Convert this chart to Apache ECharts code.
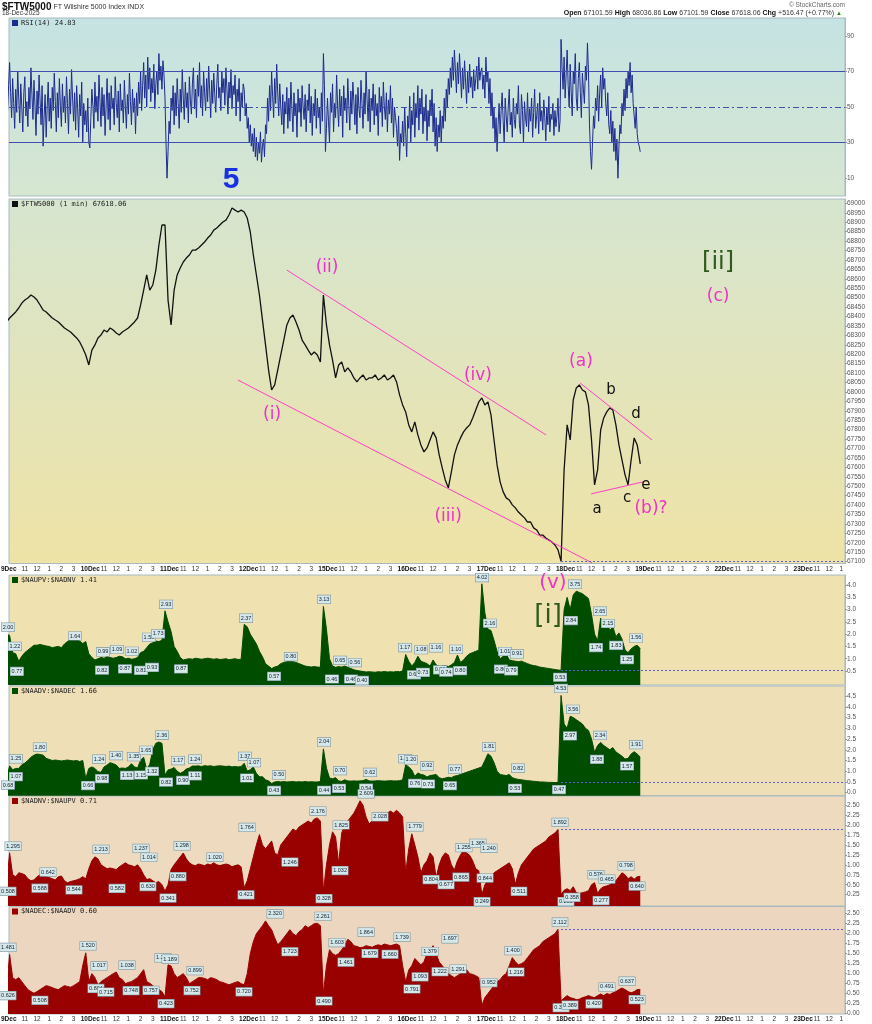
<!DOCTYPE html>
<html>
<head>
<meta charset="utf-8">
<script src="https://cdn.jsdelivr.net/npm/echarts@6/dist/echarts.min.js"></script>
<style>
  html, body { margin: 0; padding: 0; background: #fff; }
  #chart { width: 872px; height: 1024px; }
</style>
</head>
<body>
<div id="chart"></div>
<script>
// x is counted in trading minutes from 9Dec 9:30, 390 per session
const axisDays = ['9Dec', '10Dec', '11Dec', '12Dec', '15Dec', '16Dec', '17Dec', '18Dec', '19Dec', '22Dec', '23Dec'];
const hourMarks = [[90, '11'], [150, '12'], [210, '1'], [270, '2'], [330, '3']];

// RSI(14), one value every 5 minutes
const rsi = [
  55,48,62,75,58,44,66,52,38,60,47,70,55,41,63,50,36,58,67,45,53,39,61,49,72,57,43,65,51,34,59,46,68,54,40,62,28,45,57,33,50,64,42,55,38,61,48,69,53,36,58,44,66,51,39,63,47,56,41,67,52,35,60,46,71,55,42,58,37,62,49,33,57,45,64,30,52,40,
  48,36,55,30,27,44,60,51,38,64,47,56,42,68,53,39,61,45,57,34,50,66,43,58,37,62,49,55,40,67,52,44,59,36,63,48,54,41,65,50,38,57,46,69,53,40,60,47,55,35,58,45,64,52,70,48,62,75,55,68,50,78,60,72,53,66,58,74,49,63,70,57,80,65,73,60,76,68,
  55,30,10,25,42,35,55,48,62,40,58,45,66,52,38,60,47,71,55,43,64,50,58,41,67,54,46,63,72,49,60,44,68,56,75,50,62,45,70,58,48,66,53,73,59,44,65,52,69,57,47,63,74,55,61,48,70,58,66,51,72,60,46,64,55,71,49,62,57,68,45,60,53,66,42,58,50,63,
  60,45,52,38,44,30,40,28,35,25,38,22,33,20,30,24,36,19,28,32,22,40,35,55,42,62,48,70,56,44,66,52,74,58,45,63,50,40,57,35,53,46,61,38,55,42,64,49,36,58,45,52,33,60,47,55,39,62,50,43,57,36,54,48,63,41,56,34,52,45,60,38,55,44,50,35,58,42,
  80,62,25,38,55,42,30,58,47,63,36,52,44,68,50,39,60,45,56,33,62,48,55,41,66,51,37,59,46,64,53,40,57,35,61,49,44,65,52,38,58,46,70,54,42,60,36,55,48,63,40,57,45,52,34,61,47,56,39,64,50,43,58,36,54,46,62,41,55,33,50,44,38,28,45,20,35,30,
  42,28,50,35,22,45,38,56,30,48,40,58,33,52,44,62,37,55,46,60,35,50,42,57,31,48,39,54,45,60,36,52,28,44,25,40,33,48,30,45,38,55,42,60,50,66,57,72,61,78,65,82,70,58,75,63,80,68,55,72,60,76,64,52,70,58,74,61,67,55,71,59,66,73,60,78,65,70,
  72,60,68,55,78,64,70,52,66,45,58,38,50,30,44,25,40,52,35,48,58,42,30,55,45,36,50,60,40,47,33,55,43,38,52,46,62,40,35,57,48,30,53,44,39,58,36,49,42,55,33,47,60,38,45,52,35,58,42,48,37,54,44,31,50,40,56,36,46,43,52,34,48,39,45,55,36,42,
  88,72,60,78,55,68,82,62,50,74,58,45,70,63,80,55,48,66,75,58,44,69,60,52,73,65,86,70,40,25,15,30,45,38,55,48,62,42,58,68,50,72,60,66,52,45,58,40,35,48,30,42,25,38,20,32,10,28,40,35,52,45,60,48,66,55,70,62,75,58,68,52,45,38,50,35,30,28,
  24.83
];

// $FTW5000 and the four breadth ratios, one value every 15 minutes
const price = [
  68371,68392,68408,68424,68445,68471,68487,68498,68514,68503,68487,68461,68434,68424,68408,68392,68381,68371,68355,68339,68328,68318,68302,68286,68265,68233,
  68196,68143,68222,68249,68286,68302,68328,68318,68339,68328,68312,68302,68318,68328,68339,68355,68371,68392,68461,68540,68620,68540,68567,68646,68779,68885,
  68885,68487,68355,68540,68620,68657,68689,68710,68726,68752,68752,68763,68779,68795,68816,68832,68858,68869,68885,68901,68911,68938,68975,68964,68954,68964,
  68954,68922,68848,68726,68620,68514,68381,68249,68116,68010,68037,68116,68196,68275,68355,68392,68408,68371,68328,68275,68249,68222,68196,68212,68196,68159,
  68514,68355,68249,68169,68074,68143,68159,68106,68127,68106,68074,68053,68074,68090,68063,68074,68074,68090,68063,68074,68090,68063,68074,68090,68053,67984,
  67931,67894,67825,67788,67841,67772,67719,67682,67703,67745,67788,67756,67666,67597,67533,67491,67576,67666,67719,67756,67788,67809,67825,67862,67904,67947,
  67968,67931,67947,67878,67745,67613,67523,67470,67438,67427,67401,67385,67363,67347,67332,67310,67310,67279,67268,67241,67241,67225,67215,67204,67188,67162,
  67102,67586,67825,67745,67957,68021,68037,68010,68000,67931,67745,67507,67586,67798,67862,67894,67915,67904,67825,67719,67639,67560,67507,67639,67756,67719,
  67618.06
];

// $NAUPV:$NADNV
const upvRatio = [
  2.0,1.95,1.25,1.2,0.9,1.1,1.25,1.35,1.45,1.55,1.55,1.58,1.55,1.52,1.5,1.45,1.48,1.5,1.45,1.6,1.7,1.8,1.78,1.82,1.72,1.62,
  1.7,1.2,1.05,0.95,1.0,1.05,1.02,1.08,1.05,1.02,1.05,1.1,1.08,1.0,1.02,0.98,1.0,1.05,1.25,1.3,1.45,1.6,1.65,1.72,1.7,1.75,
  2.95,2.5,2.1,1.5,1.3,1.05,0.95,0.98,1.0,0.98,1.02,1.0,0.98,1.0,1.02,1.0,0.98,1.0,0.97,0.98,1.0,0.96,0.98,1.0,0.97,0.98,
  2.4,2.3,2.0,1.8,1.6,1.3,1.08,0.8,0.7,0.6,0.66,0.7,0.8,0.85,0.88,0.9,0.88,0.85,0.8,0.75,0.7,0.68,0.66,0.68,0.66,0.65,
  3.13,2.2,1.0,0.7,0.65,0.68,0.66,0.7,0.65,0.6,0.55,0.52,0.5,0.48,0.46,0.47,0.46,0.45,0.47,0.46,0.48,0.46,0.47,0.46,0.48,0.47,
  0.5,1.17,0.9,0.7,0.85,1.1,0.9,0.85,0.8,0.7,0.95,0.75,0.68,0.7,0.72,0.68,0.75,0.85,1.15,0.85,0.95,1.1,1.2,1.25,1.3,1.35,
  4.05,2.86,2.2,2.15,1.75,1.3,1.0,1.1,1.2,0.95,0.92,0.9,0.88,0.9,0.85,0.8,0.75,0.72,0.7,0.66,0.64,0.62,0.6,0.58,0.56,0.54,
  0.53,3.0,3.5,3.0,3.6,3.75,3.7,3.65,3.55,3.45,2.8,2.0,1.74,2.65,2.45,2.5,2.15,2.3,1.9,2.05,1.8,1.35,1.25,1.4,1.5,1.55,
  1.41
];

// $NAADV:$NADEC
const advRatio = [
  0.68,1.25,1.07,1.13,1.13,1.3,1.38,1.5,1.65,1.75,1.8,1.78,1.75,1.6,1.55,1.5,1.52,1.5,1.48,1.5,1.52,1.5,1.48,1.5,1.45,1.5,
  0.66,1.13,1.2,1.13,0.98,0.95,1.2,1.29,1.4,1.35,1.29,1.13,1.15,1.13,1.2,1.35,1.2,1.15,1.52,1.65,1.09,1.32,2.0,2.3,2.36,2.3,
  0.82,1.06,1.1,1.17,1.0,0.9,0.98,1.1,1.15,1.24,1.24,1.25,1.22,1.26,1.24,1.25,1.22,1.24,1.25,1.24,1.22,1.24,1.2,1.22,1.2,1.22,
  1.37,1.01,1.07,1.2,0.9,0.74,0.74,0.6,0.55,0.43,0.5,0.52,0.5,0.52,0.5,0.51,0.52,0.5,0.51,0.5,0.52,0.5,0.51,0.5,0.5,0.52,
  2.04,1.15,0.68,0.65,0.7,0.55,0.53,0.6,0.55,0.54,0.55,0.54,0.55,0.56,0.62,0.55,0.54,0.55,0.56,0.55,0.54,0.55,0.56,0.55,0.55,0.56,
  0.6,1.3,1.2,1.06,0.76,0.92,0.85,0.82,0.73,0.8,0.82,0.85,0.7,0.65,0.68,0.72,0.7,0.77,0.8,0.85,0.9,0.95,1.0,1.05,1.1,1.15,
  1.2,1.5,1.81,1.7,1.4,1.0,0.85,0.82,0.8,0.85,0.7,0.65,0.62,0.6,0.58,0.56,0.55,0.53,0.52,0.5,0.5,0.49,0.48,0.48,0.47,0.47,
  4.53,3.2,3.0,3.56,3.5,3.4,3.3,3.2,3.0,2.9,2.5,1.88,2.2,2.34,2.2,2.1,2.0,2.1,1.9,1.8,1.7,1.57,1.6,1.8,1.91,1.8,
  1.66
];

// $NADNV:$NAUPV
const dnvRatio = [
  0.5,1.3,0.75,0.7,0.8,0.78,0.75,0.65,0.6,0.62,0.7,0.75,0.72,0.7,0.68,0.65,0.62,0.7,0.72,0.6,0.55,0.58,0.6,0.62,0.65,0.7,
  0.65,0.9,1.1,1.2,1.15,1.0,0.95,0.9,0.92,0.9,0.88,0.95,1.0,1.05,1.0,0.98,0.95,1.0,0.9,0.75,0.63,0.65,0.6,0.55,0.58,0.5,
  0.34,0.5,0.88,1.0,1.1,1.2,1.298,1.15,1.05,1.0,0.98,1.02,1.0,0.98,1.02,1.0,1.05,1.0,0.98,1.0,1.02,1.0,0.95,0.98,1.0,0.95,
  0.42,0.6,0.9,1.2,1.5,1.76,1.5,1.4,1.5,1.6,1.3,1.25,1.5,1.6,1.7,1.8,1.9,1.85,1.95,2.0,2.05,2.1,2.05,2.15,2.18,2.1,
  0.33,1.0,1.5,1.83,1.7,1.03,1.8,2.0,2.1,2.2,2.3,2.45,2.61,2.5,2.2,2.03,2.1,2.2,2.25,2.3,2.25,2.3,2.35,2.3,2.37,2.3,
  2.2,0.8,1.4,1.78,1.5,1.2,0.8,1.0,1.1,1.3,1.2,0.68,1.0,1.2,1.3,1.25,1.0,0.87,1.1,1.25,1.37,1.3,1.24,1.1,0.9,0.85,
  0.25,0.5,0.6,0.7,0.8,0.85,0.9,0.95,1.0,1.05,0.9,0.51,0.8,1.0,1.1,1.2,1.3,1.4,1.45,1.5,1.55,1.6,1.7,1.75,1.8,1.89,
  0.25,0.36,0.4,0.35,0.45,0.3,0.28,0.3,0.32,0.35,0.5,0.55,0.28,0.4,0.45,0.47,0.5,0.55,0.6,0.7,0.8,0.75,0.65,0.7,0.64,0.7,
  0.71
];

// $NADEC:$NAADV
const decRatio = [
  0.63,1.48,0.9,0.85,0.9,0.8,0.7,0.6,0.55,0.51,0.55,0.6,0.65,0.7,0.68,0.65,0.62,0.6,0.65,0.7,0.68,0.66,0.7,0.75,0.8,1.2,
  1.52,0.8,1.0,0.9,0.72,0.8,0.85,0.9,0.95,1.0,1.04,0.9,0.85,0.75,0.78,0.8,0.85,0.9,1.0,1.1,0.8,0.76,0.7,0.65,0.6,0.55,
  0.42,1.22,1.19,1.0,0.9,0.95,1.0,0.9,0.75,0.8,0.85,0.9,0.9,0.88,0.85,0.9,0.88,0.85,0.8,0.78,0.75,0.72,0.75,0.78,0.8,0.75,
  0.72,1.0,1.5,1.8,2.0,2.1,2.2,2.32,2.2,2.1,1.9,1.72,1.8,1.9,2.0,2.1,2.0,1.95,2.05,2.1,2.2,2.15,2.2,2.25,2.26,2.2,
  0.49,1.2,1.6,1.5,1.46,1.5,1.6,1.7,1.86,1.8,1.7,1.68,1.65,1.66,1.7,1.68,1.66,1.7,1.72,1.7,1.74,1.72,1.7,1.72,1.74,1.7,
  1.2,0.79,1.09,1.2,1.38,1.3,1.22,1.3,1.5,1.6,1.7,1.5,1.29,1.2,1.1,1.0,0.95,0.9,0.95,1.0,1.05,1.1,1.0,0.98,0.95,0.9,
  0.2,0.4,0.5,0.6,0.7,0.8,0.85,0.95,1.0,1.2,1.4,1.3,1.22,1.25,1.3,1.4,1.5,1.6,1.65,1.7,1.8,1.85,1.9,1.95,2.0,2.11,
  0.32,0.39,0.45,0.4,0.38,0.35,0.36,0.4,0.42,0.45,0.42,0.4,0.45,0.49,0.45,0.5,0.48,0.52,0.55,0.6,0.64,0.6,0.55,0.52,0.55,0.6,
  0.60
];

// value call-outs [minute, value]
const upvPeaks = [[7,2.00],[41,1.22],[337,1.64],[475,0.99],[544,1.09],[617,1.02],[701,1.59],[746,1.73],[785,2.93],[1179,2.37],[1400,0.80],[1563,3.13],[1642,0.65],[1715,0.56],[1962,1.17],[2041,1.08],[2114,1.16],[2213,1.10],[2341,4.02],[2380,2.16],[2454,1.01],[2513,0.91],[2799,3.75],[2922,2.65],[2961,2.15],[3099,1.56]];
const upvTroughs = [[51,0.77],[470,0.82],[583,0.87],[662,0.81],[716,0.93],[859,0.87],[1317,0.57],[1602,0.46],[1696,0.46],[1750,0.40],[2006,0.63],[2050,0.73],[2134,0.83],[2164,0.74],[2233,0.80],[2434,0.86],[2484,0.79],[2725,0.53],[2779,2.84],[2902,1.74],[3001,1.83],[3055,1.25]];
const advPeaks = [[46,1.25],[164,1.80],[455,1.24],[539,1.40],[627,1.35],[686,1.65],[765,2.36],[844,1.17],[928,1.24],[1174,1.37],[1218,1.07],[1341,0.50],[1563,2.04],[1642,0.70],[1789,0.62],[1962,1.26],[1991,1.20],[2070,0.92],[2208,0.77],[2375,1.81],[2518,0.82],[2730,4.53],[2789,3.56],[2922,2.34],[3099,1.91]];
const advTroughs = [[7,0.68],[46,1.07],[401,0.66],[470,0.98],[593,1.13],[662,1.15],[716,1.32],[785,0.82],[869,0.90],[928,1.11],[1184,1.01],[1317,0.43],[1563,0.44],[1637,0.53],[1770,0.54],[2011,0.76],[2075,0.73],[2183,0.65],[2503,0.53],[2720,0.47],[2774,2.97],[2907,1.88],[3055,1.57]];
const dnvPeaks = [[32,1.295],[204,0.642],[465,1.213],[662,1.237],[701,1.014],[864,1.298],[1026,1.020],[1184,1.764],[1533,2.176],[1647,1.825],[1770,2.609],[1839,2.028],[2011,1.779],[2252,1.255],[2321,1.365],[2375,1.240],[2725,1.892],[2902,0.576],[2956,0.465],[3050,0.798]];
const dnvTroughs = [[7,0.508],[164,0.588],[332,0.544],[544,0.582],[696,0.630],[795,0.341],[844,0.880],[1179,0.421],[1395,1.246],[1563,0.328],[1642,1.032],[2090,0.804],[2164,0.677],[2237,0.865],[2356,0.844],[2341,0.249],[2523,0.511],[2754,0.253],[2784,0.358],[2927,0.277],[3104,0.640]];
const decPeaks = [[7,1.481],[401,1.520],[455,1.017],[593,1.038],[770,1.219],[805,1.189],[928,0.899],[1322,2.320],[1558,2.261],[1627,1.603],[1770,1.864],[1947,1.739],[2085,1.379],[2183,1.697],[2493,1.400],[2725,2.112],[2956,0.491],[3055,0.637]];
const decTroughs = [[7,0.626],[164,0.508],[440,0.804],[489,0.715],[613,0.748],[711,0.757],[785,0.423],[913,0.752],[1169,0.720],[1395,1.723],[1563,0.490],[1671,1.461],[1789,1.679],[1888,1.660],[1996,0.791],[2036,1.093],[2134,1.222],[2223,1.291],[2375,0.952],[2508,1.216],[2730,0.321],[2774,0.389],[2892,0.420],[3104,0.523]];

// wave count notes [minute, value, text]
const blueNotes = [[1105, 69124, '5']];
const magentaNotes = [[1578, 68657, '(ii)'], [1307, 67878, '(i)'], [2174, 67337, '(iii)'], [2321, 68084, '(iv)'], [2828, 68159, '(a)'], [3173, 67379, '(b)?'], [3503, 68503, '(c)']];
const blackNotes = [[2976, 68010, 'b'], [3099, 67883, 'd'], [3055, 67438, 'c'], [3148, 67507, 'e'], [2907, 67379, 'a']];
const greenNotes = [[3503, 68683, '[ii]']];
const breadthMagenta = [[2690, 4.08, '(v)']];
const breadthGreen = [[2666, 2.74, '[i]']];
const trendLines = [
  [[1380, 68646], [2656, 67772]],
  [[1139, 68063], [2883, 67093]],
  [[2824, 68047], [3178, 67745]],
  [[2878, 67459], [3134, 67523]]
];
const lastOpen = 2730; // 18Dec open
const refLevels = [67101.59, 0.53, 0.47, 1.892, 2.112];

const rsiTicks = [10, 30, 50, 70, 90];
const priceTicks = [67100,67150,67200,67250,67300,67350,67400,67450,67500,67550,67600,67650,67700,67750,67800,67850,67900,67950,68000,68050,68100,68150,68200,68250,68300,68350,68400,68450,68500,68550,68600,68650,68700,68750,68800,68850,68900,68950,69000];
const upvTicks = [0.5, 1.0, 1.5, 2.0, 2.5, 3.0, 3.5, 4.0];
const advTicks = [0.0, 0.5, 1.0, 1.5, 2.0, 2.5, 3.0, 3.5, 4.0, 4.5];
const dnvTicks = [0.25, 0.5, 0.75, 1.0, 1.25, 1.5, 1.75, 2.0, 2.25, 2.5];
const decTicks = [0.0, 0.25, 0.5, 0.75, 1.0, 1.25, 1.5, 1.75, 2.0, 2.25, 2.5];

const X_MIN = 12, X_MAX = 4128;
const toXY = (arr, step) => {
  const perDay = 390 / step;
  return arr.map((v, i) => [Math.floor(i / perDay) * 390 + (i % perDay) * step, v]);
};

const tickValues = [];
const tickText = {};
axisDays.forEach((d, i) => {
  const base = i * 390;
  tickValues.push(base);
  tickText[base] = '{d|' + d + '}';
  hourMarks.forEach(([m, s]) => { tickValues.push(base + m); tickText[base + m] = s; });
});

const grad = (a, b) => new echarts.graphic.LinearGradient(0, 0, 0, 1, [{ offset: 0, color: a }, { offset: 1, color: b }]);
const grids = [
  { top: 18, height: 178, bg: grad('#c5e3e3', '#d6e6d0') },
  { top: 199, height: 364.5, bg: grad('#d6e5cf', '#efe3a6') },
  { top: 575, height: 110, bg: '#efe1b0' },
  { top: 686, height: 109.7, bg: '#efdfb6' },
  { top: 796, height: 110, bg: '#eedbbf' },
  { top: 906.5, height: 107.5, bg: '#ecd6bf' }
];
const yRanges = [[0, 100], [67090, 69023], [-0.07, 4.41], [-0.14, 4.97], [-0.035, 2.73], [-0.01, 2.68]];
const yTicks = [rsiTicks, priceTicks, upvTicks, advTicks, dnvTicks, decTicks];
const yFmt = [v => String(v), v => String(v), v => v.toFixed(1), v => v.toFixed(1), v => v.toFixed(2), v => v.toFixed(2)];

const font = 'Liberation Sans, Arial, sans-serif';
const chart = echarts.init(document.getElementById('chart'));

const option = {
  animation: false,
  backgroundColor: '#ffffff',
  grid: grids.map(g => ({
    left: 9, right: 27, top: g.top, height: g.height,
    show: true, backgroundColor: g.bg, borderColor: '#a8babf', borderWidth: 1
  })),
  xAxis: grids.map((g, i) => ({
    type: 'value', gridIndex: i, min: X_MIN, max: X_MAX,
    splitLine: { show: false }, axisLine: { show: false }, axisTick: { show: false },
    axisLabel: (i === 1 || i === 5) ? {
      show: true, customValues: tickValues, formatter: v => tickText[v] || '',
      fontSize: 6.5, color: '#333', margin: 2, fontFamily: font,
      rich: { d: { fontSize: 6.5, fontWeight: 'bold', color: '#111', fontFamily: font, padding: [0, 0, 0, 9] } }
    } : { show: false }
  })),
  yAxis: grids.map((g, i) => ({
    type: 'value', gridIndex: i, position: 'right',
    min: yRanges[i][0], max: yRanges[i][1],
    splitLine: { show: false },
    axisLine: { show: true, lineStyle: { color: '#a8babf' } },
    axisTick: { show: true, customValues: yTicks[i], length: 2, lineStyle: { color: '#999' } },
    axisLabel: { customValues: yTicks[i], formatter: yFmt[i], fontSize: 6.5, color: '#555', margin: 2, fontFamily: font }
  })),
  series: [
    {
      type: 'line', xAxisIndex: 0, yAxisIndex: 0, data: toXY(rsi, 5), showSymbol: false,
      lineStyle: { color: '#1d2b8f', width: 1 },
      markLine: {
        silent: true, symbol: 'none',
        data: [
          { yAxis: 70, lineStyle: { color: '#3e4fb0', width: 1, type: 'solid' }, label: { show: false } },
          { yAxis: 30, lineStyle: { color: '#3e4fb0', width: 1, type: 'solid' }, label: { show: false } },
          { yAxis: 50, lineStyle: { color: '#3e4fb0', width: 1, type: [6, 3, 2, 3] }, label: { show: false } },
          { yAxis: rsi[rsi.length - 1], lineStyle: { opacity: 0 },
            label: { show: true, position: 'end', distance: 2, formatter: '24.83', fontSize: 6.5, color: '#223',
              backgroundColor: '#dbe9f2', borderColor: '#3e4fb0', borderWidth: 1, borderRadius: 3, padding: [1, 2] } }
        ]
      }
    },
    {
      type: 'line', xAxisIndex: 1, yAxisIndex: 1, data: toXY(price, 15), showSymbol: false,
      lineStyle: { color: '#111', width: 1.3 },
      markLine: {
        silent: true, symbol: 'none',
        data: [
          ...trendLines.map(l => [
            { coord: l[0], lineStyle: { color: '#ff40c8', width: 1, type: 'solid' }, label: { show: false } },
            { coord: l[1] }
          ]),
          [
            { coord: [lastOpen, refLevels[0]], lineStyle: { color: '#5a5adc', width: 1, type: [2, 2] }, label: { show: false } },
            { coord: [X_MAX, refLevels[0]] }
          ],
          { yAxis: price[price.length - 1], lineStyle: { opacity: 0 },
            label: { show: true, position: 'end', distance: 1, formatter: '67618.06', fontSize: 6.5, fontWeight: 'bold', color: '#111',
              backgroundColor: '#d5ecea', borderColor: '#3b6b6b', borderWidth: 1, padding: [1, 1] } }
        ]
      }
    },
    ...[[upvRatio, '#004d00', '#2f9b3a', '1.41'], [advRatio, '#004d00', '#2f9b3a', '1.66'],
        [dnvRatio, '#990000', '#d43a3a', '0.71'], [decRatio, '#990000', '#d43a3a', '0.60']].map(([vals, col, edge, last], k) => ({
      type: 'line', xAxisIndex: k + 2, yAxisIndex: k + 2, data: toXY(vals, 15), showSymbol: false,
      lineStyle: { color: col, width: 1 },
      areaStyle: { color: col, opacity: 1, origin: 'start' },
      markLine: {
        silent: true, symbol: 'none',
        data: [
          [
            { coord: [lastOpen, refLevels[k + 1]], lineStyle: { color: '#5a5adc', width: 1, type: [2, 2] }, label: { show: false } },
            { coord: [X_MAX, refLevels[k + 1]] }
          ],
          { yAxis: vals[vals.length - 1], lineStyle: { opacity: 0 },
            label: { show: true, position: 'end', distance: 1, formatter: last, fontSize: 6.5, fontWeight: 'bold', color: '#111',
              backgroundColor: '#e6f2ea', borderColor: edge, borderWidth: 1, borderRadius: 3, padding: [1, 2] } }
        ]
      }
    }))
  ]
};
chart.setOption(option);

// text layer, placed through the axes
const gfx = [];
const px = (grid, t, v) => chart.convertToPixel({ gridIndex: grid }, [t, v]);
const addText = (grid, list, style) => list.forEach(([t, v, s]) => {
  const p = px(grid, t, v);
  gfx.push({ type: 'text', x: p[0], y: p[1], z: 50, style: Object.assign({ text: s, align: 'center', verticalAlign: 'middle' }, style) });
});
addText(1, blueNotes, { fill: '#1a2fe0', font: 'bold 30px Liberation Sans, Arial' });
addText(1, magentaNotes, { fill: '#f030c8', font: '17px DejaVu Sans, sans-serif' });
addText(1, blackNotes, { fill: '#111', font: '15px DejaVu Sans, sans-serif' });
addText(1, greenNotes, { fill: '#2e5a1e', font: '24px DejaVu Sans, sans-serif' });
addText(2, breadthMagenta, { fill: '#f030c8', font: '20px DejaVu Sans, sans-serif' });
addText(2, breadthGreen, { fill: '#2e5a1e', font: '26px DejaVu Sans, sans-serif' });

const calloutStyle = { fontSize: 5.5, fill: '#123', backgroundColor: '#d7e8ea', borderColor: '#7d98a2', borderWidth: 0.6, padding: [1, 1], fontFamily: font };
const addCallouts = (grid, list, up, digits) => list.forEach(([t, v]) => {
  const p = px(grid, t, v);
  gfx.push({ type: 'text', x: p[0], y: p[1] + (up ? -3 : 3), z: 40,
    style: Object.assign({ text: v.toFixed(digits), align: 'center', verticalAlign: up ? 'bottom' : 'top' }, calloutStyle) });
});
addCallouts(2, upvPeaks, true, 2); addCallouts(2, upvTroughs, false, 2);
addCallouts(3, advPeaks, true, 2); addCallouts(3, advTroughs, false, 2);
addCallouts(4, dnvPeaks, true, 3); addCallouts(4, dnvTroughs, false, 3);
addCallouts(5, decPeaks, true, 3); addCallouts(5, decTroughs, false, 3);

// the 9Dec date sits left of the plot edge
[1, 5].forEach(g => {
  const p = px(g, 0, yRanges[g][0]);
  gfx.push({ type: 'text', x: 1, y: p[1] + 2, style: { text: axisDays[0], font: 'bold 6.5px ' + font, fill: '#111', verticalAlign: 'top' } });
});

// panel legends
const legends = [
  [0, 'RSI(14) 24.83', '#1d2b8f'],
  [1, '$FTW5000 (1 min) 67618.06', '#111'],
  [2, '$NAUPV:$NADNV 1.41', '#004d00'],
  [3, '$NAADV:$NADEC 1.66', '#004d00'],
  [4, '$NADNV:$NAUPV 0.71', '#990000'],
  [5, '$NADEC:$NAADV 0.60', '#990000']
];
legends.forEach(([g, s, c]) => {
  const y = grids[g].top + 5;
  gfx.push({ type: 'rect', shape: { x: 12, y: y - 3, width: 6, height: 6 }, style: { fill: c } });
  gfx.push({ type: 'text', x: 21, y: y, style: { text: s, font: '7px DejaVu Sans Mono, monospace', fill: '#222', verticalAlign: 'middle' } });
});

// header
gfx.push({ type: 'text', x: 2, y: 2, style: { text: '{b|$FTW5000} FT Wilshire 5000 Index INDX', font: '7px ' + font, fill: '#333',
  rich: { b: { font: 'bold 10px ' + font, fill: '#111' } } } });
gfx.push({ type: 'text', x: 2, y: 10, style: { text: '18-Dec-2025', font: '6.5px ' + font, fill: '#333' } });
gfx.push({ type: 'text', x: 845, y: 2, style: { text: '© StockCharts.com', font: '6.5px ' + font, fill: '#666', align: 'right' } });
gfx.push({ type: 'text', x: 842, y: 10, style: {
  text: '{b|Open} 67101.59 {b|High} 68036.86 {b|Low} 67101.59 {b|Close} 67618.06 {b|Chg} +516.47 (+0.77%) {g|▲}',
  font: '7px ' + font, fill: '#333', align: 'right',
  rich: { b: { font: 'bold 7px ' + font, fill: '#111' }, g: { font: '6px ' + font, fill: '#1a8a1a' } } } });

chart.setOption({ graphic: gfx });
</script>
</body>
</html>
